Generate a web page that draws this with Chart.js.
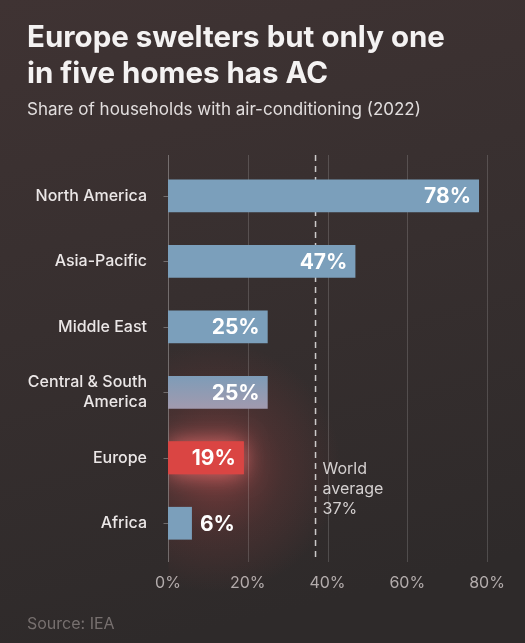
<!DOCTYPE html>
<html>
<head>
<meta charset="utf-8">
<script src="https://cdn.jsdelivr.net/npm/chart.js@4.4.1/dist/chart.umd.min.js"></script>
<style>
  html, body { margin: 0; padding: 0; background: #352e2e; }
  #wrap { width: 525px; height: 643px; position: relative; }
</style>
</head>
<body>
<div id="wrap"><canvas id="acChart"></canvas></div>
<script>
// data
const regions = ['North America', 'Asia-Pacific', 'Middle East', ['Central & South', 'America'], 'Europe', 'Africa'];
const shares = [78, 47, 25, 25, 19, 6];
const worldAverage = 37;
const highlight = 'Europe';

const titleLines = ['Europe swelters but only one', 'in five homes has AC'];
const subtitle = 'Share of households with air-conditioning (2022)';
const sourceNote = 'Source: IEA';
const avgNote = ['World', 'average', worldAverage + '%'];

const FONT = 'Inter, "Noto Sans", sans-serif';
const BLUE = '#7b9fbb';
const RED = '#da4543';

// background, titles, source
const backdrop = {
  id: 'backdrop',
  beforeDraw(chart) {
    const { ctx, width, height } = chart;
    ctx.save();
    const bg = ctx.createLinearGradient(0, 0, width * 0.3, height);
    bg.addColorStop(0, '#3f3333');
    bg.addColorStop(0.5, '#372f2f');
    bg.addColorStop(1, '#2e2a2a');
    ctx.fillStyle = bg;
    ctx.fillRect(0, 0, width, height);

    ctx.fillStyle = '#f4f2f2';
    ctx.textAlign = 'left';
    ctx.textBaseline = 'alphabetic';
    ctx.font = 'bold 29.5px ' + FONT;
    ctx.fillText(titleLines[0], 27, 47);
    ctx.fillText(titleLines[1], 27, 83);
    ctx.font = '17px ' + FONT;
    ctx.fillStyle = '#e2dede';
    ctx.fillText(subtitle, 27, 115);
    ctx.font = '16px ' + FONT;
    ctx.fillStyle = '#77706f';
    ctx.fillText(sourceNote, 27, 629);
    ctx.restore();
  }
};

// glow, grid, average line
const underlay = {
  id: 'underlay',
  beforeDatasetsDraw(chart) {
    const { ctx, chartArea, width, height, scales: { x, y } } = chart;
    const top = chartArea.top - 8, bottom = chartArea.bottom + 6;
    const x0 = Math.round(x.getPixelForValue(0)) + 0.5;
    ctx.save();

    // red glow round Europe, kept right of the axis
    const eu = chart.getDatasetMeta(0).data[regions.indexOf(highlight)];
    ctx.save();
    ctx.beginPath();
    ctx.rect(x0, 0, width - x0, height);
    ctx.clip();
    const cx = (x0 + eu.x) / 2 + 10, cy = eu.y + 10;
    const glow = ctx.createRadialGradient(cx, cy, 10, cx, cy, 125);
    glow.addColorStop(0, 'rgba(200,75,75,0.42)');
    glow.addColorStop(0.5, 'rgba(180,70,70,0.16)');
    glow.addColorStop(1, 'rgba(180,70,70,0)');
    ctx.fillStyle = glow;
    ctx.fillRect(cx - 140, cy - 140, 280, 280);
    // halo hugging the bar
    ctx.shadowColor = 'rgba(255,120,120,0.75)';
    ctx.shadowBlur = 22;
    ctx.fillStyle = RED;
    ctx.fillRect(x0, eu.y - eu.height / 2, eu.x - x0, eu.height);
    ctx.restore();

    // vertical grid lines
    ctx.strokeStyle = 'rgba(255,255,255,0.16)';
    ctx.lineWidth = 1;
    x.ticks.forEach(t => {
      if (t.value === 0) return;
      const px = Math.round(x.getPixelForValue(t.value)) + 0.5;
      ctx.beginPath(); ctx.moveTo(px, top); ctx.lineTo(px, bottom); ctx.stroke();
    });

    // y axis line and category ticks
    ctx.strokeStyle = 'rgba(255,255,255,0.3)';
    ctx.beginPath(); ctx.moveTo(x0, top); ctx.lineTo(x0, bottom); ctx.stroke();
    regions.forEach((r, i) => {
      const py = Math.round(y.getPixelForValue(i)) + 0.5;
      ctx.beginPath(); ctx.moveTo(x0 - 5, py); ctx.lineTo(x0, py); ctx.stroke();
    });

    // world average dashed line
    const ax = x.getPixelForValue(worldAverage);
    ctx.strokeStyle = 'rgba(255,255,255,0.75)';
    ctx.lineWidth = 1.5;
    ctx.setLineDash([6, 5]);
    ctx.beginPath(); ctx.moveTo(ax, top); ctx.lineTo(ax, bottom); ctx.stroke();
    ctx.restore();
  }
};

// value labels and average note
const labels = {
  id: 'labels',
  afterDatasetsDraw(chart) {
    const { ctx, scales: { x } } = chart;
    ctx.save();
    ctx.font = 'bold 21px ' + FONT;
    ctx.fillStyle = '#ffffff';
    ctx.textBaseline = 'middle';
    chart.getDatasetMeta(0).data.forEach((bar, i) => {
      const txt = shares[i] + '%';
      if (shares[i] >= 10) {
        ctx.textAlign = 'right';
        ctx.fillText(txt, bar.x - 8, bar.y + 1);
      } else {
        ctx.textAlign = 'left';
        ctx.fillText(txt, bar.x + 8, bar.y + 1);
      }
    });

    ctx.font = '16px ' + FONT;
    ctx.fillStyle = '#d4d0d0';
    ctx.textAlign = 'left';
    ctx.textBaseline = 'alphabetic';
    const ax = x.getPixelForValue(worldAverage) + 7;
    avgNote.forEach((line, i) => ctx.fillText(line, ax, 474 + i * 20));
    ctx.restore();
  }
};

function barColor(c) {
  const i = c.dataIndex;
  if (regions[i] === highlight) return RED;
  const yScale = c.chart.scales.y;
  if (i === 3 && yScale) {
    // bar sitting in the edge of the glow
    const cy = yScale.getPixelForValue(i);
    if (!Number.isFinite(cy)) return BLUE;
    const g = c.chart.ctx.createLinearGradient(0, cy - 17, 0, cy + 17);
    g.addColorStop(0, '#7d9cb8');
    g.addColorStop(1, '#a29aae');
    return g;
  }
  return BLUE;
}

new Chart(document.getElementById('acChart'), {
  type: 'bar',
  data: {
    labels: regions,
    datasets: [
      {
        data: shares,
        backgroundColor: barColor,
        borderWidth: 0,
        barPercentage: 0.5,
        categoryPercentage: 1,
      },
    ],
  },
  plugins: [backdrop, underlay, labels],
  options: {
    indexAxis: 'y',
    responsive: true,
    maintainAspectRatio: false,
    animation: false,
    layout: { padding: { top: 163, right: 38, left: 0, bottom: 0 } },
    plugins: {
      legend: { display: false },
      tooltip: { enabled: false },
    },
    scales: {
      x: {
        min: 0,
        max: 80,
        border: { display: false },
        grid: { display: false, drawTicks: false },
        ticks: {
          stepSize: 20,
          padding: 18,
          color: '#b3acac',
          font: { family: FONT, size: 16 },
          callback: v => v + '%',
        },
        afterFit: s => { s.height = 87; },
      },
      y: {
        border: { display: false },
        grid: { display: false, drawTicks: false },
        ticks: {
          padding: 21,
          color: '#ebe7e7',
          font: { family: FONT, size: 16, weight: '500', lineHeight: 1.2 },
        },
        afterFit: s => { s.width = 168; },
      },
    },
  },
});
</script>
</body>
</html>
